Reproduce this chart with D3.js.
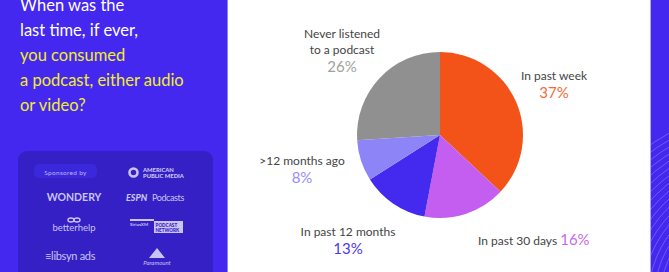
<!DOCTYPE html>
<html>
<head>
<meta charset="utf-8">
<script src="https://cdn.jsdelivr.net/npm/d3@7"></script>
<style>
  body { margin: 0; background: #fff; }
  svg { display: block; }
  text { font-family: Lato, "Open Sans", sans-serif; }
</style>
</head>
<body>
<script>
// pie data, clockwise from 12 o'clock
var categories = ["In past week", "In past 30 days", "In past 12 months", ">12 months ago", "Never listened to a podcast"];
var values = [37, 16, 13, 8, 26];
var colors = ["#f35218", "#c45ef0", "#4429ee", "#8c84f7", "#909090"];
var pctColors = ["#f46a3a", "#c86af0", "#4d38ea", "#968ef5", "#a0a0a0"];

var titleLines = ["When was the", "last time, if ever,", "you consumed", "a podcast, either audio", "or video?"];
var titleColors = ["#fff", "#fff", "#f2ee2e", "#f2ee2e", "#f2ee2e"];

var width = 669, height = 272;
var cx = 440, cy = 135, radius = 83;

// where each label sits, relative to pie centre
var labelLayout = [
  { dx: 114, dy: -55, lines: ["In past week"] },
  { dx: 38, dy: 110, inline: true },
  { dx: -92, dy: 101, lines: ["In past 12 months"] },
  { dx: -138, dy: 30, lines: [">12 months ago"] },
  { dx: -98, dy: -97, lines: ["Never listened", "to a podcast"] }
];

var svg = d3.select("body").append("svg")
  .attr("width", width)
  .attr("height", height);

// left blue panel
svg.append("rect").attr("x", 0).attr("y", 0).attr("width", 228).attr("height", height).attr("fill", "#4428ef");
svg.append("rect").attr("x", 227).attr("y", 0).attr("width", 1).attr("height", height).attr("fill", "#8f80f5");

var title = svg.append("g");
titleLines.forEach(function(t, i) {
  title.append("text")
    .attr("x", 20)
    .attr("y", 11 + i * 25)
    .attr("font-size", 16.5)
    .attr("fill", titleColors[i])
    .text(t);
});

// sponsor box
var sp = svg.append("g");
sp.append("rect").attr("x", 18).attr("y", 151).attr("width", 195).attr("height", 140)
  .attr("rx", 9).attr("fill", "#3420c4");
sp.append("rect").attr("x", 34).attr("y", 164).attr("width", 63).attr("height", 14)
  .attr("rx", 5).attr("fill", "#3b27dc");
var logoCol = "#c9c4f4";
sp.append("text").attr("x", 65.5).attr("y", 174.5).attr("text-anchor", "middle")
  .attr("font-size", 6.5).attr("fill", "#bfb8f4").attr("letter-spacing", 0.3).text("Sponsored by");
sp.append("circle").attr("cx", 133.5).attr("cy", 172.5).attr("r", 4).attr("fill", "none")
  .attr("stroke", logoCol).attr("stroke-width", 2.6);
sp.append("text").attr("x", 143).attr("y", 171.5).attr("font-size", 5.8).attr("font-weight", 900)
  .attr("fill", logoCol).text("AMERICAN");
sp.append("text").attr("x", 143).attr("y", 178).attr("font-size", 5.8).attr("font-weight", 900)
  .attr("fill", logoCol).text("PUBLIC MEDIA");
sp.append("text").attr("x", 74).attr("y", 201).attr("text-anchor", "middle").attr("font-size", 10.5)
  .attr("font-weight", 700).attr("fill", logoCol).attr("font-family", "Roboto").text("WONDERY");
sp.append("text").attr("x", 126).attr("y", 200.5).attr("font-size", 9).attr("font-weight", 900)
  .attr("font-style", "italic").attr("fill", logoCol).attr("font-family", "Roboto").text("ESPN");
sp.append("text").attr("x", 152).attr("y", 200.5).attr("font-size", 9).attr("letter-spacing", -0.4)
  .attr("fill", logoCol).attr("font-family", "Roboto").text("Podcasts");
// betterhelp icon
sp.append("ellipse").attr("cx", 71).attr("cy", 220).attr("rx", 3).attr("ry", 2)
  .attr("fill", "none").attr("stroke", logoCol).attr("stroke-width", 1.4);
sp.append("ellipse").attr("cx", 77).attr("cy", 220).attr("rx", 3).attr("ry", 2)
  .attr("fill", "none").attr("stroke", logoCol).attr("stroke-width", 1.4);
sp.append("text").attr("x", 74).attr("y", 231).attr("text-anchor", "middle").attr("font-size", 9.5)
  .attr("fill", logoCol).attr("font-family", "Roboto").text("betterhelp");
sp.append("rect").attr("x", 130).attr("y", 219).attr("width", 24).attr("height", 2).attr("fill", logoCol);
sp.append("text").attr("x", 130).attr("y", 226).attr("font-size", 4.5).attr("font-weight", 700)
  .attr("fill", logoCol).text("SiriusXM");
sp.append("rect").attr("x", 154).attr("y", 221).attr("width", 29).attr("height", 12).attr("fill", logoCol);
sp.append("text").attr("x", 155.5).attr("y", 226.5).attr("font-size", 4.6).attr("font-weight", 900)
  .attr("fill", "#3420c4").text("PODCAST");
sp.append("text").attr("x", 155.5).attr("y", 231.5).attr("font-size", 4.6).attr("font-weight", 900)
  .attr("fill", "#3420c4").text("NETWORK");
sp.append("text").attr("x", 45).attr("y", 260).attr("font-size", 11).attr("letter-spacing", -0.3)
  .attr("fill", logoCol).attr("font-family", "Roboto").text("\u2261libsyn ads");
sp.append("path").attr("d", "M149,258 L157,248 L165,258 Z").attr("fill", logoCol);
sp.append("text").attr("x", 157).attr("y", 265).attr("text-anchor", "middle").attr("font-size", 6)
  .attr("font-style", "italic").attr("font-family", "DejaVu Serif").attr("fill", logoCol).text("Paramount");

// right decorative strip
svg.append("rect").attr("x", 650).attr("y", 0).attr("width", 19).attr("height", height).attr("fill", "#4428ef");
svg.append("rect").attr("x", 650).attr("y", 0).attr("width", 1).attr("height", height).attr("fill", "#b0a6f6");
svg.append("clipPath").attr("id", "strip")
  .append("rect").attr("x", 651).attr("y", 0).attr("width", 18).attr("height", height);
var rings = svg.append("g").attr("clip-path", "url(#strip)");
d3.range(0, 24).forEach(function(i) {
  rings.append("circle")
    .attr("cx", 760).attr("cy", 300)
    .attr("r", 190 - i * 6)
    .attr("fill", "none")
    .attr("stroke", "#8a7cf6")
    .attr("stroke-opacity", 0.75)
    .attr("stroke-width", 0.8);
});

// pie
var pie = d3.pie().sort(null).value(function(d) { return d; });
var arc = d3.arc().innerRadius(0).outerRadius(radius);
var arcs = pie(values);

var g = svg.append("g").attr("transform", "translate(" + cx + "," + cy + ")");
g.selectAll("path.slice")
  .data(arcs)
  .enter()
  .append("path")
  .attr("class", "slice")
  .attr("d", arc)
  .attr("fill", function(d, i) { return colors[i]; });

// labels
arcs.forEach(function(d, i) {
  var lay = labelLayout[i];
  var lg = g.append("g").attr("transform", "translate(" + lay.dx + "," + lay.dy + ")");
  if (lay.inline) {
    var t = lg.append("text").attr("x", 0).attr("y", 0).attr("text-anchor", "start");
    t.append("tspan").attr("font-size", 12).attr("fill", "#444").text(categories[i] + " ");
    t.append("tspan").attr("font-size", 15).attr("fill", pctColors[i]).text(d.data + "%");
    return;
  }
  lay.lines.forEach(function(line, j) {
    lg.append("text")
      .attr("x", 0).attr("y", j * 16)
      .attr("text-anchor", "middle")
      .attr("font-size", 12)
      .attr("fill", "#444")
      .text(line);
  });
  lg.append("text")
    .attr("x", 0).attr("y", lay.lines.length * 16 + 2)
    .attr("text-anchor", "middle")
    .attr("font-size", 15)
    .attr("fill", pctColors[i])
    .text(d.data + "%");
});
</script>
</body>
</html>
